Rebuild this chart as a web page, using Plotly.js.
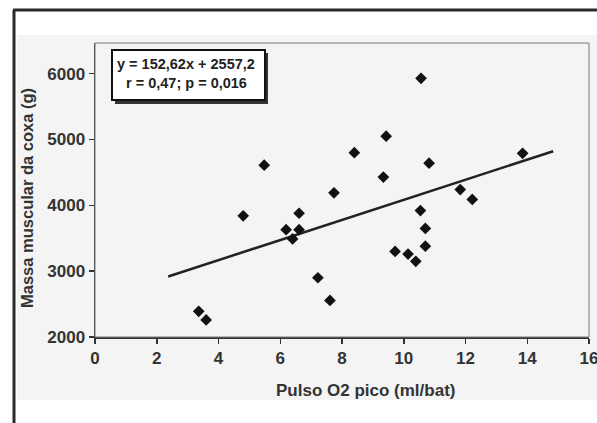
<!DOCTYPE html>
<html>
<head>
<meta charset="utf-8">
<script src="https://cdn.plot.ly/plotly-3.0.1.min.js"></script>
<style>html,body{margin:0;padding:0;background:#fff;overflow:hidden;}#chart{width:597px;height:423px;}</style>
</head>
<body>
<div id="chart"></div>
<script>
// Data
const pulsoO2 = [3.36, 3.60, 4.80, 5.48, 6.19, 6.40, 6.61, 6.61, 7.22, 7.61, 7.74, 8.40, 9.34, 9.43, 9.72, 10.14, 10.39, 10.54, 10.56, 10.70, 10.70, 10.82, 11.83, 12.22, 13.85];
const massaCoxa = [2390, 2260, 3840, 4610, 3630, 3490, 3630, 3880, 2900, 2555, 4190, 4800, 4430, 5050, 3300, 3260, 3150, 3920, 5930, 3650, 3380, 4640, 4240, 4090, 4790];
const slope = 152.62;
const intercept = 2557.2;
const trendX = [2.37, 14.84];
const xTicks = [0, 2, 4, 6, 8, 10, 12, 14, 16];
const yTicks = [2000, 3000, 4000, 5000, 6000];
const eqLine1 = "y = 152,62x + 2557,2";
const eqLine2 = "r = 0,47; p = 0,016";
const xTitle = "Pulso O2 pico (ml/bat)";
const yTitle = "Massa muscular da coxa (g)";

const W = 597, H = 423;
const M = {l: 95, r: 8, t: 43, b: 86};
const PW = W - M.l - M.r, PH = H - M.t - M.b;
const px = v => (v - M.l) / PW;
const py = v => (H - M.b - v) / PH;

const FONT = "Liberation Sans, Arial, Helvetica, sans-serif";

const trendY = trendX.map(x => slope * x + intercept);

const traces = [
  {x: trendX, y: trendY, mode: 'lines', type: 'scatter',
   line: {color: '#222', width: 2.5}, hoverinfo: 'skip', showlegend: false},
  {x: pulsoO2, y: massaCoxa, mode: 'markers', type: 'scatter',
   marker: {symbol: 'diamond', size: 9, color: '#111'}, showlegend: false}
];

const shapes = [
  // faint chart area
  {type: 'rect', xref: 'paper', yref: 'paper', x0: px(17), x1: px(600), y0: py(400), y1: py(35),
   fillcolor: '#f4f4f4', line: {width: 0}, layer: 'below'},
  // outer frame (left and top)
  {type: 'line', xref: 'paper', yref: 'paper', x0: px(14), x1: px(14), y0: py(10), y1: py(430),
   line: {color: '#2a2a2a', width: 3}},
  {type: 'line', xref: 'paper', yref: 'paper', x0: px(13), x1: px(600), y0: py(10), y1: py(10),
   line: {color: '#2a2a2a', width: 3}},
  // plot border
  {type: 'rect', xref: 'paper', yref: 'paper', x0: 0, x1: 1, y0: 0, y1: 1,
   line: {color: '#7a7a7a', width: 1}, layer: 'above'},
  // equation box shadow and box
  {type: 'rect', xref: 'paper', yref: 'paper', x0: px(115), x1: px(268), y0: py(104), y1: py(53),
   fillcolor: '#333', line: {width: 0}},
  {type: 'rect', xref: 'paper', yref: 'paper', x0: px(112), x1: px(265), y0: py(100), y1: py(50),
   fillcolor: '#fff', line: {color: '#111', width: 2}}
];

const annotations = [
  {xref: 'paper', yref: 'paper', x: px(186), y: py(64), text: eqLine1, showarrow: false,
   xanchor: 'center', yanchor: 'middle', font: {family: FONT, size: 14.5, color: '#222', weight: 'bold'}},
  {xref: 'paper', yref: 'paper', x: px(186), y: py(83), text: eqLine2, showarrow: false,
   xanchor: 'center', yanchor: 'middle', font: {family: FONT, size: 14.5, color: '#222', weight: 'bold'}},
  {xref: 'paper', yref: 'paper', x: px(365), y: py(390), text: xTitle, showarrow: false,
   xanchor: 'center', yanchor: 'middle', font: {family: FONT, size: 17, color: '#333', weight: 'bold'}},
  {xref: 'paper', yref: 'paper', x: px(27), y: py(198), text: yTitle, showarrow: false, textangle: -90,
   xanchor: 'center', yanchor: 'middle', font: {family: FONT, size: 16.5, color: '#333', weight: 'bold'}}
];

const layout = {
  width: W, height: H,
  margin: M,
  paper_bgcolor: '#ffffff',
  plot_bgcolor: '#b9b9b9',
  showlegend: false,
  font: {family: FONT, color: '#333'},
  xaxis: {range: [0, 16], tickvals: xTicks, ticktext: xTicks.map(String),
    ticks: 'outside', ticklen: 5, tickwidth: 1.5, tickcolor: '#333',
    showline: true, linecolor: '#333', linewidth: 1.5,
    showgrid: false, zeroline: false, ticklabeloverflow: 'allow',
    tickfont: {family: FONT, size: 17, color: '#333', weight: 'bold'}},
  yaxis: {range: [2000, 6466], tickvals: yTicks, ticktext: yTicks.map(String),
    ticks: 'outside', ticklen: 5, tickwidth: 1.5, tickcolor: '#333',
    showline: true, linecolor: '#333', linewidth: 1.5,
    showgrid: false, zeroline: false, ticklabeloverflow: 'allow',
    tickfont: {family: FONT, size: 17, color: '#333', weight: 'bold'}},
  shapes: shapes,
  annotations: annotations
};

Plotly.newPlot('chart', traces, layout, {staticPlot: true, displayModeBar: false});
</script>
</body>
</html>
